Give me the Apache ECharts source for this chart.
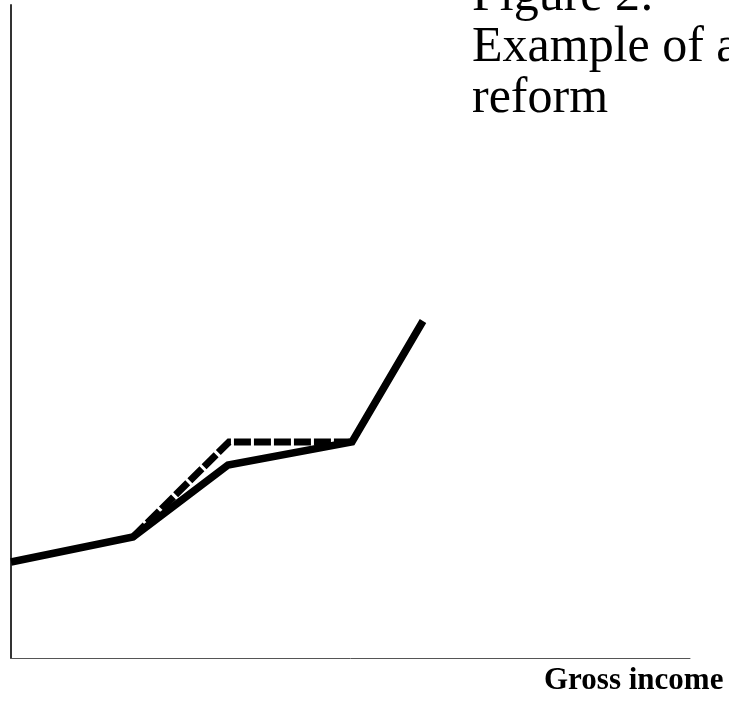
<!DOCTYPE html>
<html>
<head>
<meta charset="utf-8">
<script src="https://cdn.jsdelivr.net/npm/echarts@6/dist/echarts.min.js"></script>
<style>html,body{margin:0;padding:0;background:#fff}#c{width:729px;height:701px}</style>
</head>
<body>
<div id="c"></div>
<script>
// Gross income (x) and net income (y), arbitrary units
var currentX = [0, 122, 217, 341, 412];
var currentY = [96, 121, 193, 216, 337];
var reformX = [122, 218, 341];
var reformY = [121, 216, 216];
var titleLines = ['Figure 2:', 'Example of a', 'reform'];
var xName = 'Gross income';

function pairs(xs, ys) { return xs.map(function (x, i) { return [x, ys[i]]; }); }

var chart = echarts.init(document.getElementById('c'));
chart.setOption({
  animation: false,
  backgroundColor: '#fff',
  grid: { left: 11, right: 39, top: 5, bottom: 43 },
  xAxis: {
    type: 'value', min: 0, max: 679,
    axisLine: { show: true, onZero: false, lineStyle: { color: '#555', width: 1 } },
    axisTick: { show: false }, axisLabel: { show: false }, splitLine: { show: false }
  },
  yAxis: {
    type: 'value', min: 0, max: 653,
    axisLine: { show: true, onZero: false, lineStyle: { color: '#333', width: 2 } },
    axisTick: { show: false }, axisLabel: { show: false }, splitLine: { show: false }
  },
  series: [
    {
      type: 'line', data: pairs(currentX, currentY), symbol: 'none',
      lineStyle: { color: '#000', width: 7.5, cap: 'butt', join: 'miter' }, z: 2
    },
    {
      type: 'line', data: pairs(reformX, reformY), symbol: 'none',
      lineStyle: { color: '#000', width: 7, type: [17, 3], cap: 'butt', join: 'miter' }, z: 3
    }
  ],
  graphic: [
    {
      type: 'text', left: 472, top: -29,
      style: {
        text: titleLines.join('\n'), fill: '#000',
        font: '50px "Liberation Serif", "Times New Roman", serif', lineHeight: 51
      }
    },
    {
      type: 'text', left: 544, top: 665,
      style: {
        text: xName, fill: '#000',
        font: 'bold 31px "Liberation Serif", "Times New Roman", serif'
      }
    }
  ]
});
</script>
</body>
</html>
